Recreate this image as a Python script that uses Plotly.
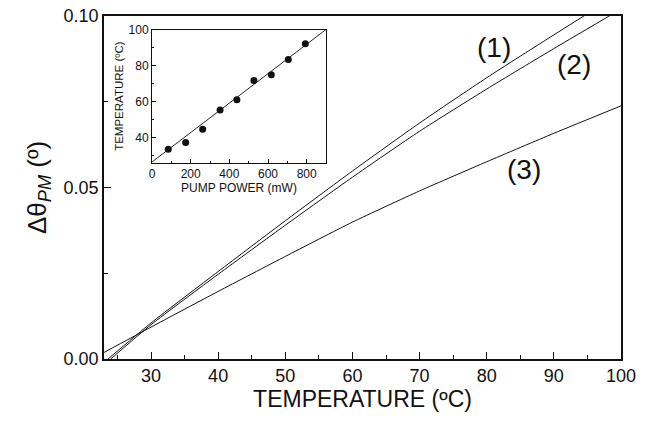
import plotly.graph_objects as go

# ---- main chart data ----
curve1_T = [23.6, 30, 40, 50, 60, 70, 80, 90, 100]
curve1_v = [0.0, 0.0105, 0.0255, 0.0403, 0.0548, 0.0688, 0.0820, 0.0945, 0.1068]
curve2_T = [24.0, 30, 40, 50, 60, 70, 80, 90, 100]
curve2_v = [0.0, 0.0100, 0.0247, 0.0390, 0.0530, 0.0664, 0.0787, 0.0905, 0.1020]
curve3_T = [23.0, 30, 40, 50, 60, 70, 80, 90, 100]
curve3_v = [0.0019, 0.0093, 0.0197, 0.0299, 0.0399, 0.0490, 0.0575, 0.0658, 0.0738]

curve_labels = ["(1)", "(2)", "(3)"]
label_T = [81.1, 93.0, 85.6]
label_v = [0.0907, 0.0858, 0.0552]

# ---- inset data ----
pump_power = [84, 174, 262, 352, 439, 527, 617, 705, 793]
inset_temp = [33.5, 37.2, 44.6, 55.3, 61.0, 71.6, 74.8, 83.4, 92.1]
fit_power = [0, 900]
fit_temp = [26.4, 100]

FONT = "Liberation Sans, Arial, sans-serif"
BLACK = "#111111"

fig = go.Figure()
for T, v in [(curve1_T, curve1_v), (curve2_T, curve2_v), (curve3_T, curve3_v)]:
    fig.add_trace(go.Scatter(x=T, y=v, mode="lines", line=dict(color=BLACK, width=1, shape="spline", smoothing=0.6),
                             showlegend=False, xaxis="x", yaxis="y"))

fig.add_trace(go.Scatter(x=fit_power, y=fit_temp, mode="lines", line=dict(color=BLACK, width=0.9),
                         showlegend=False, xaxis="x2", yaxis="y2"))
fig.add_trace(go.Scatter(x=pump_power, y=inset_temp, mode="markers", marker=dict(color=BLACK, size=7),
                         showlegend=False, xaxis="x2", yaxis="y2"))

for txt, x, y in zip(curve_labels, label_T, label_v):
    fig.add_annotation(x=x, y=y, xref="x", yref="y", text=txt, showarrow=False,
                       font=dict(family=FONT, size=28, color=BLACK))

axis_common = dict(showgrid=False, zeroline=False, showline=True, linecolor=BLACK, mirror=True,
                   ticks="inside", tickcolor=BLACK, automargin=False)

fig.update_layout(
    width=652, height=424,
    margin=dict(l=104, r=31, t=16, b=65),
    paper_bgcolor="white", plot_bgcolor="white",
    font=dict(family=FONT, color=BLACK),
    xaxis=dict(**axis_common, range=[23, 100], dtick=10, tick0=0, ticklen=7, tickwidth=1, linewidth=1.5,
               minor=dict(dtick=5, tick0=0, ticklen=4, ticks="inside", tickcolor=BLACK),
               tickfont=dict(size=18), title=dict(text="TEMPERATURE (ºC)", font=dict(size=23), standoff=6)),
    yaxis=dict(**axis_common, range=[0, 0.1], dtick=0.05, tick0=0, tickformat=".2f", ticklen=7, tickwidth=1,
               linewidth=1.5,
               minor=dict(dtick=0.025, tick0=0, ticklen=4, ticks="inside", tickcolor=BLACK),
               tickfont=dict(size=18),
               title=dict(text="Δθ<sub><i>PM</i></sub> (º)", font=dict(size=26), standoff=10)),
    xaxis2=dict(**axis_common, domain=[0.0929, 0.4294], anchor="y2", range=[0, 900], dtick=200, tick0=0,
                ticklen=4, linewidth=1,
                minor=dict(dtick=100, tick0=0, ticklen=2, ticks="inside", tickcolor=BLACK),
                tickfont=dict(size=12),
                title=dict(text="PUMP POWER (mW)", font=dict(size=12), standoff=2)),
    yaxis2=dict(**axis_common, domain=[0.5723, 0.9606], anchor="x2", range=[26, 100], dtick=20, tick0=0,
                ticklen=4, linewidth=1,
                minor=dict(dtick=10, tick0=0, ticklen=2, ticks="inside", tickcolor=BLACK),
                tickfont=dict(size=12),
                title=dict(text="TEMPERATURE (ºC)", font=dict(size=11.5), standoff=2)),
)

fig.write_html("out.html", config={"displayModeBar": False},
               post_script="document.body.style.margin='0';document.body.style.overflow='hidden';")
